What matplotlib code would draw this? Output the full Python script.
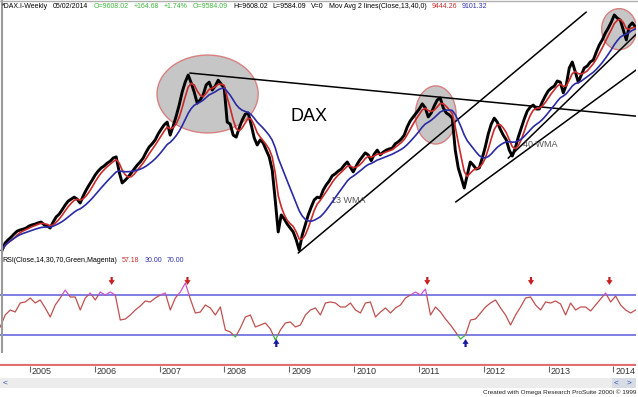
import numpy as np
import pandas as pd
import matplotlib
matplotlib.use('Agg')
import matplotlib.pyplot as plt
import matplotlib.transforms as mtransforms
from matplotlib.patches import Ellipse, Rectangle

plt.rcParams['font.family'] = ['Liberation Sans', 'DejaVu Sans']

# DAX closes, one every ~17 days starting late July 2004
start_year = 2004.57
step_years = 0.0463
closes = [3670, 3850, 3930, 4000, 4080, 4150, 4180, 4200, 4230, 4280,
          4310, 4330, 4360, 4380, 4310, 4280, 4230, 4380, 4510, 4580,
          4690, 4810, 4910, 4960, 5010, 4960, 4860, 5040, 5190, 5320,
          5440, 5570, 5670, 5750, 5800, 5870, 5920, 6000, 6030, 5650,
          5370, 5440, 5520, 5620, 5720, 5820, 5900, 6000, 6150, 6280,
          6360, 6460, 6610, 6730, 6840, 6910, 6580, 6810, 7060, 7340,
          7670, 7920, 8100, 7900, 7670, 7390, 7470, 7600, 7850, 7920,
          7720, 7820, 7970, 7870, 7770, 6910, 6860, 6580, 6530, 6760,
          6960, 7110, 7140, 6840, 6510, 6330, 6460, 6380, 6200, 6030,
          5700, 4940, 4130, 4560, 4460, 4330, 4230, 4130, 3930, 3670,
          4050, 4310, 4560, 4760, 4940, 5010, 4990, 5190, 5320, 5420,
          5550, 5600, 5670, 5720, 5820, 5900, 5770, 5650, 5800, 5930,
          6030, 6130, 6080, 5930, 6100, 6200, 6080, 6150, 6200, 6230,
          6250, 6360, 6410, 6480, 6580, 6790, 6940, 7040, 7140, 7240,
          7370, 7270, 7040, 7140, 7320, 7470, 7520, 7270, 7140, 7090,
          7010, 6200, 5750, 5500, 5240, 5570, 5900, 5820, 5720, 5750,
          6000, 6280, 6610, 6860, 7010, 6910, 6730, 6580, 6460, 6200,
          6050, 6250, 6530, 6760, 6990, 7190, 7290, 7340, 7240, 7240,
          7420, 7570, 7700, 7770, 7820, 7950, 7920, 7650, 7850, 8280,
          8430, 8180, 7920, 8100, 8280, 8330, 8430, 8480, 8680, 8860,
          8990, 9160, 9290, 9440, 9620, 9540, 9490, 9240, 8990, 9340,
          9420, 9320]

# RSI(14) readings, one every ~4 weeks
rsi_start = 2004.54
rsi_step = 0.0772
rsi = [38, 50, 55, 53, 62, 63, 67, 62, 65, 57,
       48, 60, 67, 75, 68, 68, 55, 67, 72, 65,
       73, 70, 73, 70, 45, 46, 50, 55, 59, 64,
       63, 67, 70, 72, 55, 67, 73, 82, 66, 52,
       53, 60, 57, 50, 58, 35, 33, 28, 37, 48,
       50, 38, 40, 42, 36, 25, 35, 42, 43, 38,
       40, 50, 55, 57, 50, 62, 63, 62, 58, 58,
       62, 55, 52, 62, 63, 48, 53, 57, 52, 57,
       60, 67, 70, 73, 70, 76, 50, 58, 53, 46,
       40, 33, 26, 30, 45, 46, 52, 58, 62, 65,
       57, 50, 40, 50, 58, 67, 68, 60, 55, 63,
       62, 64, 61, 50, 62, 55, 58, 58, 54, 60,
       66, 72, 63, 69, 60, 55, 52, 55]

sell_signals = [2006.26, 2007.43, 2011.13, 2012.73, 2013.94]
buy_signals = [2008.80, 2011.72]
year_ticks = list(range(2005, 2015))

# hand drawn annotations: (year0, price0, year1, price1)
trend_lines = [(2007.47, 8150, 2014.35, 7060),
               (2009.14, 3600, 2013.58, 9690),
               (2011.57, 4890, 2014.37, 8250),
               (2012.38, 6000, 2014.37, 9160)]
# (year, price, width in years, height in points)
ellipses = [(2007.74, 7620, 1.56, 1970),
            (2011.26, 7090, 0.63, 1470),
            (2014.09, 9260, 0.54, 1040)]

header = [('*DAX.I-Weekly', 'black'), ('05/02/2014', 'black'),
          ('O=9608.02', '#3cb83c'), ('+164.68', '#3cb83c'), ('+1.74%', '#3cb83c'),
          ('O=9584.09', '#3cb83c'), ('H=9608.02', 'black'), ('L=9584.09', 'black'),
          ('V=0', 'black'), ('Mov Avg 2 lines(Close,13,40,0)', 'black'),
          ('9444.26', '#cc3030'), ('9101.32', '#3030b0')]
rsi_header = [('RSI(Close,14,30,70,Green,Magenta)', 'black'), ('57.18', '#cc3030'),
              ('30.00', '#3030b0'), ('70.00', '#3030b0')]

x_left, x_right = 2004.537, 2014.35

W, H = 638, 397
fig = plt.figure(figsize=(W / 100, H / 100), dpi=100)
renderer = fig.canvas.get_renderer()


def box(x0, y0, x1, y1):
    return [x0 / W, 1 - y1 / H, (x1 - x0) / W, (y1 - y0) / H]


def ftext(px, py, s, **kw):
    return fig.text(px / W, 1 - py / H, s, va='center', **kw)


def text_row(px, py, parts, size, gap=5):
    for s, c in parts:
        t = ftext(px, py, s, fontsize=size, color=c)
        px = t.get_window_extent(renderer).x1 + gap


def wma(s, weeks):
    n = max(1, round(weeks * 7 / (step_years * 365.25)))
    return s.rolling(n, min_periods=1).apply(
        lambda w: np.dot(w, np.arange(1, len(w) + 1)) / np.arange(1, len(w) + 1).sum(), raw=True)


years = start_year + np.arange(len(closes)) * step_years
price = pd.Series(closes, dtype=float)
wma13 = wma(price, 13)
wma40 = wma(price, 40)

# price panel
ax = fig.add_axes(box(0, 8, 636, 258))
ax.set_xlim(x_left, x_right)
ax.set_ylim(3471, 9796)
ax.axis('off')

for cx, cy, w, h in ellipses:
    ax.add_patch(Ellipse((cx, cy), w, h, facecolor='#c6c6c6', edgecolor='#d88080', lw=1, zorder=1))
for x0, y0, x1, y1 in trend_lines:
    ax.plot([x0, x1], [y0, y1], color='black', lw=1.1, zorder=2)

ax.plot(years, closes, color='black', lw=2.1, zorder=3)
ax.plot(years, wma13, color='#cc2a2a', lw=1.2, zorder=4)
ax.plot(years, wma40, color='#2a2aa6', lw=1.2, zorder=4)

ax.text(2009.3, 7060, 'DAX', fontsize=13, ha='center', va='center')
ax.text(2009.65, 4930, '13 WMA', fontsize=6.5, color='#555555', va='center')
ax.text(2012.6, 6330, '40 WMA', fontsize=6.5, color='#555555', va='center')

# RSI panel
rax = fig.add_axes(box(0, 264, 636, 366))
rax.set_xlim(x_left, x_right)
rax.set_ylim(-1, 101)
for sp in rax.spines.values():
    sp.set_visible(False)
rax.set_yticks([])

rsi_years = rsi_start + np.arange(len(rsi)) * rsi_step
for lo, hi, c in [(30, 70, '#c05050'), (70, 101, '#cc55cc'), (-1, 30, '#40b840')]:
    ln, = rax.plot(rsi_years, rsi, color=c, lw=0.9, zorder=3)
    clip = Rectangle((x_left, lo), x_right - x_left, hi - lo, transform=rax.transData)
    ln.set_clip_path(clip)

rax.axhline(70, color='#7474e0', lw=1.3, zorder=2)
rax.axhline(30, color='#7474e0', lw=1.3, zorder=2)
rax.axhline(0, color='#e07070', lw=1.6, zorder=2)

for x in sell_signals:
    rax.annotate('', xy=(x, 80), xytext=(x, 88),
                 arrowprops=dict(facecolor='#c82020', edgecolor='none', width=1.6,
                                 headwidth=4.5, headlength=3.5, shrink=0))
for x in buy_signals:
    rax.annotate('', xy=(x, 26), xytext=(x, 18),
                 arrowprops=dict(facecolor='#1a1aa0', edgecolor='none', width=1.6,
                                 headwidth=4.5, headlength=3.5, shrink=0))

rax.set_xticks(year_ticks)
rax.set_xticklabels([str(y) for y in year_ticks], ha='left')
rax.tick_params(axis='x', direction='out', length=4, width=0.8, color='#666666',
                labelsize=6.5, labelcolor='#333333', pad=-3)
offset = mtransforms.ScaledTranslation(2 / 100, 0, fig.dpi_scale_trans)
for lab in rax.get_xticklabels():
    lab.set_transform(lab.get_transform() + offset)

# window chrome
fig.add_artist(plt.Line2D([1.5 / W, 1.5 / W], [1 - 0 / H, 1 - 352 / H], color='#9a9a9a', lw=1.5))
fig.add_artist(plt.Line2D([0, 1], [1 - 0.5 / H, 1 - 0.5 / H], color='#b0b0b0', lw=1))
fig.add_artist(Rectangle((0, 1 - 388 / H), 636 / W, 10 / H, transform=fig.transFigure,
                         facecolor='#ececec', edgecolor='none'))
fig.add_artist(Rectangle((612 / W, 1 - 388 / H), 24 / W, 10 / H, transform=fig.transFigure,
                         facecolor='#d6dbe6', edgecolor='none'))
ftext(3, 383, '<', fontsize=6, color='#3050a0')
ftext(614, 383, '<', fontsize=6, color='#3050a0')
ftext(627, 383, '>', fontsize=6, color='#3050a0')
ftext(636, 392, 'Created with Omega Research ProSuite 2000i \u00a9 1999',
      fontsize=4.6, color='#222222', ha='right')

text_row(2, 7, header, 5)
text_row(2, 261, rsi_header, 5)

fig.savefig('out.png', dpi=100)
